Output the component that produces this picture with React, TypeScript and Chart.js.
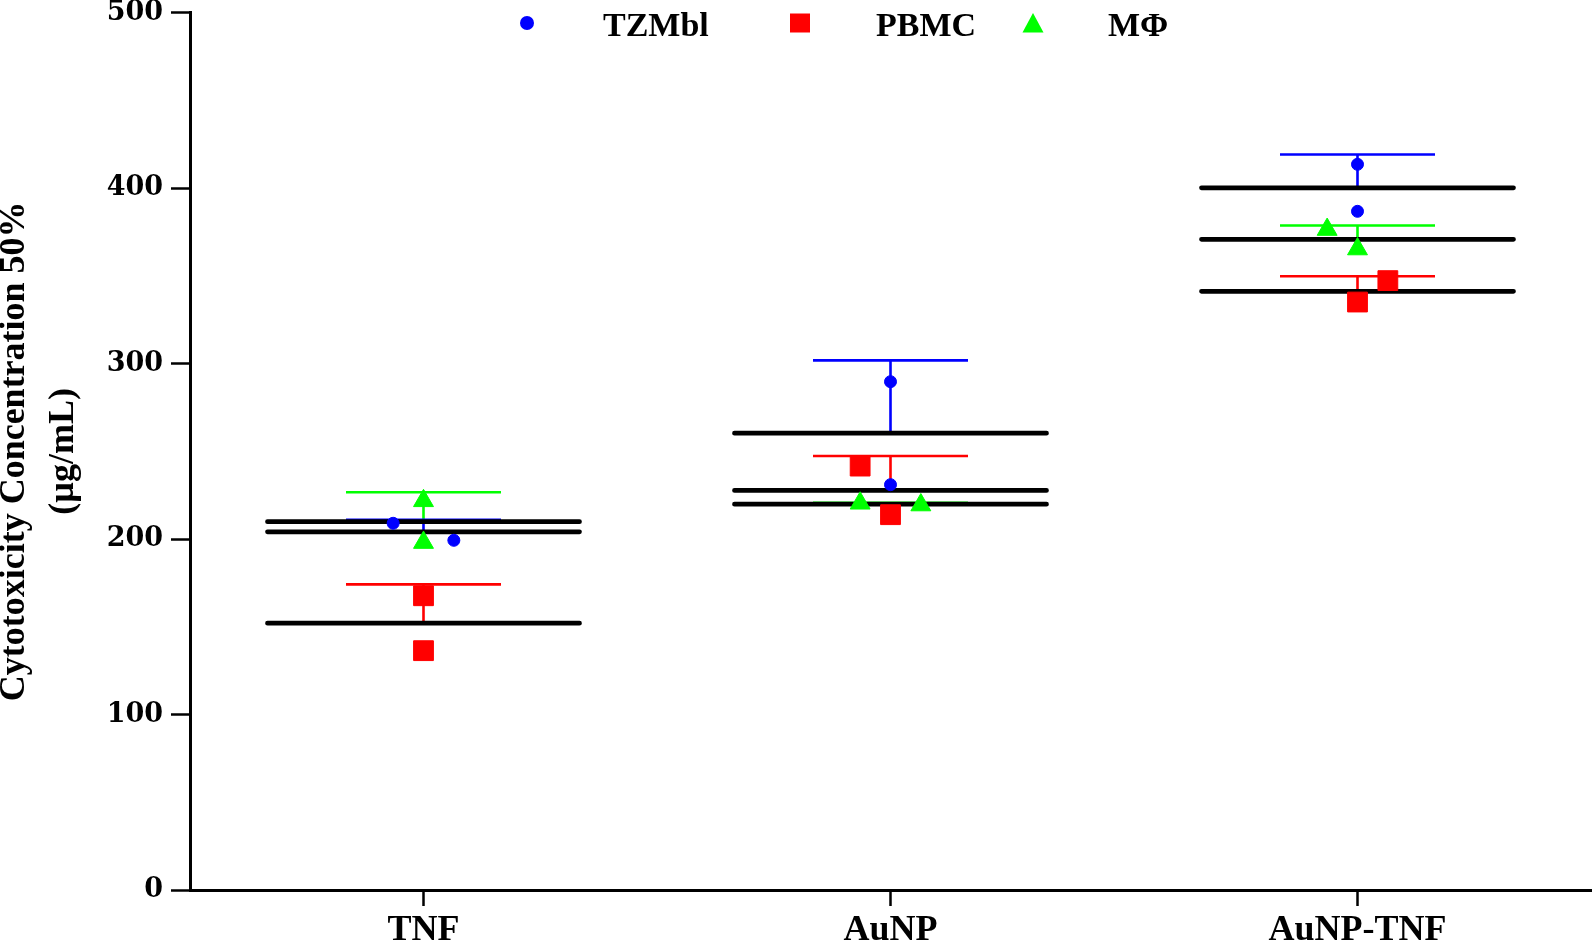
import React, { useEffect, useRef } from 'react';
import { Chart, registerables } from 'chart.js';

Chart.register(...registerables);

// ---------------- data ----------------
const categories = ['TNF', 'AuNP', 'AuNP-TNF'];
const seriesNames = ['TZMbl', 'PBMC', 'MΦ'];

// replicate values (µg/mL) per category
const tzmblValues = [
  [209.0, 199.3],
  [289.7, 231.0],
  [413.6, 386.8],
];
const pbmcValues = [
  [167.7, 136.4],
  [241.6, 213.9],
  [347.3, 335.1],
];
const mphiValues = [
  [221.8, 198.0],
  [220.4, 219.4],
  [376.4, 365.3],
];

// horizontal spread slot of each replicate (-1 left, 0 centre, +1 right), as in the dot plot
const tzmblSpread = [
  [-1, 1],
  [0, 0],
  [0, 0],
];
const pbmcSpread = [
  [0, 0],
  [-1, 0],
  [1, 0],
];
const mphiSpread = [
  [0, 0],
  [-1, 1],
  [-1, 0],
];

const yTickValues = [0, 100, 200, 300, 400, 500];
const yTitle = ['Cytotoxicity Concentration 50%', '(µg/mL)'];

// ---------------- style ----------------
const COLORS = ['#0000ff', '#ff0000', '#00ff00'];
const POINT_STYLES = ['circle', 'rect', 'triangle'];
const POINT_RADII = [6, 14, 11.5];
const JITTER = 0.065;
const MEAN_HALF = 0.334;
const CAP_HALF = 0.166;
const SERIF = "'Liberation Serif', 'Times New Roman', serif";

const allValues = [tzmblValues, pbmcValues, mphiValues];
const allSpread = [tzmblSpread, pbmcSpread, mphiSpread];

function mean(a: number[]) {
  return a.reduce((s, v) => s + v, 0) / a.length;
}
function sd(a: number[]) {
  const m = mean(a);
  return Math.sqrt(a.reduce((s, v) => s + (v - m) * (v - m), 0) / (a.length - 1));
}

// legend layout (drawn inside the plot, like the original)
const LEGEND_MARKER_X = [527, 800, 1033];
const LEGEND_TEXT_X = [603, 876, 1108];
const LEGEND_CY = 23;
const LEGEND_BASELINE = 35.7;

const insideLegend = {
  id: 'insideLegend',
  afterDraw(chart: any) {
    const ctx = chart.ctx as CanvasRenderingContext2D;
    ctx.save();
    seriesNames.forEach((name, i) => {
      const x = LEGEND_MARKER_X[i];
      const y = LEGEND_CY;
      ctx.fillStyle = COLORS[i];
      ctx.beginPath();
      if (POINT_STYLES[i] === 'circle') {
        ctx.arc(x, y, 7, 0, Math.PI * 2);
      } else if (POINT_STYLES[i] === 'rect') {
        ctx.rect(x - 10, y - 9.5, 20, 19);
      } else {
        ctx.moveTo(x, y - 10);
        ctx.lineTo(x + 10.5, y + 9.5);
        ctx.lineTo(x - 10.5, y + 9.5);
        ctx.closePath();
      }
      ctx.fill();
      ctx.fillStyle = '#000';
      ctx.font = `bold 34px ${SERIF}`;
      ctx.textBaseline = 'alphabetic';
      ctx.textAlign = 'left';
      ctx.fillText(name, LEGEND_TEXT_X[i], LEGEND_BASELINE);
    });
    ctx.restore();
  },
};

export default function App() {
  const ref = useRef<HTMLCanvasElement>(null);

  useEffect(() => {
    const pointSets = seriesNames.map((name, s) => ({
      type: 'scatter' as const,
      label: name,
      data: categories.flatMap((_, ci) =>
        allValues[s][ci].map((v, k) => ({ x: ci + allSpread[s][ci][k] * JITTER, y: v }))
      ),
      showLine: false,
      pointStyle: POINT_STYLES[s],
      pointRadius: POINT_RADII[s],
      pointBackgroundColor: COLORS[s],
      pointBorderColor: COLORS[s],
      pointBorderWidth: 1,
      order: 0,
    }));

    const meanSets = seriesNames.map((name, s) => ({
      type: 'line' as const,
      label: name + ' mean',
      data: categories.flatMap((_, ci) => {
        const m = mean(allValues[s][ci]);
        return [
          { x: ci - MEAN_HALF, y: m },
          { x: ci + MEAN_HALF, y: m },
          { x: ci + 0.5, y: null },
        ];
      }),
      borderColor: '#000',
      borderWidth: 4.8,
      borderCapStyle: 'round' as const,
      pointRadius: 0,
      spanGaps: false,
      order: 1,
    }));

    const errSets = seriesNames.map((name, s) => ({
      type: 'line' as const,
      label: name + ' SD',
      data: categories.flatMap((_, ci) => {
        const m = mean(allValues[s][ci]);
        const top = m + sd(allValues[s][ci]);
        return [
          { x: ci, y: m },
          { x: ci, y: top },
          { x: ci, y: null },
          { x: ci - CAP_HALF, y: top },
          { x: ci + CAP_HALF, y: top },
          { x: ci + 0.5, y: null },
        ];
      }),
      borderColor: COLORS[s],
      borderWidth: 2.6,
      borderCapStyle: 'butt' as const,
      pointRadius: 0,
      spanGaps: false,
      order: 2,
    }));

    const chart = new Chart(ref.current as HTMLCanvasElement, {
      type: 'scatter',
      data: { datasets: [...pointSets, ...meanSets, ...errSets] as any },
      options: {
        animation: false,
        responsive: false,
        devicePixelRatio: 1,
        events: [],
        layout: { autoPadding: false, padding: { top: 12.7, right: 2, left: 0, bottom: 0 } },
        plugins: {
          legend: { display: false },
          tooltip: { enabled: false },
        },
        scales: {
          x: {
            type: 'linear',
            min: -0.5,
            max: 2.5,
            afterBuildTicks: (scale: any) => {
              scale.ticks = categories.map((_, i) => ({ value: i }));
            },
            afterFit: (scale: any) => {
              scale.height = 50;
              scale.paddingLeft = 0;
              scale.paddingRight = 0;
            },
            ticks: {
              autoSkip: false,
              maxRotation: 0,
              padding: 3,
              color: '#000',
              font: { family: SERIF, size: 36, weight: 'bold' },
              callback: (v: any) => categories[Math.round(Number(v))] ?? '',
            },
            grid: {
              display: true,
              drawOnChartArea: false,
              drawTicks: true,
              tickLength: 16,
              tickColor: '#000',
              tickWidth: 2.5,
            },
            border: { display: true, color: '#000', width: 3 },
          },
          y: {
            type: 'linear',
            min: 0,
            max: 500,
            afterBuildTicks: (scale: any) => {
              scale.ticks = yTickValues.map((v) => ({ value: v }));
            },
            afterFit: (scale: any) => {
              scale.width = 190;
              scale.paddingTop = 0;
              scale.paddingBottom = 0;
            },
            ticks: {
              padding: 8,
              color: '#000',
              font: { family: "'DejaVu Serif', serif", size: 27, weight: 'bold' },
            },
            grid: {
              display: true,
              drawOnChartArea: false,
              drawTicks: true,
              tickLength: 19,
              tickColor: '#000',
              tickWidth: 2.5,
            },
            border: { display: true, color: '#000', width: 3 },
            title: {
              display: true,
              text: yTitle,
              color: '#000',
              font: { family: SERIF, size: 36, weight: 'bold', lineHeight: 1.37 },
              padding: { top: -10, bottom: 0 },
            },
          },
        },
      },
      plugins: [insideLegend],
    });

    return () => chart.destroy();
  }, []);

  return (
    <div style={{ position: 'absolute', left: 0, top: 0, width: 1593, height: 940, background: '#fff' }}>
      <canvas ref={ref} width={1593} height={940} style={{ display: 'block', width: 1593, height: 940 }} />
    </div>
  );
}
